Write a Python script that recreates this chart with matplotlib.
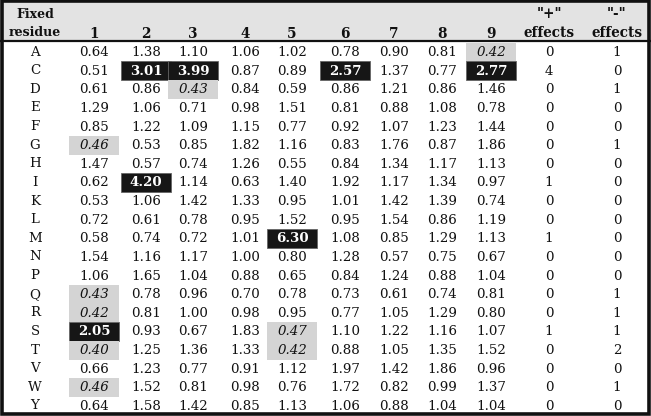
import matplotlib
matplotlib.use("Agg")
import matplotlib.pyplot as plt
from matplotlib.patches import Rectangle

residues = ["A", "C", "D", "E", "F", "G", "H", "I", "K", "L", "M", "N", "P", "Q", "R", "S", "T", "V", "W", "Y"]
positions = ["1", "2", "3", "4", "5", "6", "7", "8", "9"]
values = [
    [0.64, 1.38, 1.10, 1.06, 1.02, 0.78, 0.90, 0.81, 0.42],
    [0.51, 3.01, 3.99, 0.87, 0.89, 2.57, 1.37, 0.77, 2.77],
    [0.61, 0.86, 0.43, 0.84, 0.59, 0.86, 1.21, 0.86, 1.46],
    [1.29, 1.06, 0.71, 0.98, 1.51, 0.81, 0.88, 1.08, 0.78],
    [0.85, 1.22, 1.09, 1.15, 0.77, 0.92, 1.07, 1.23, 1.44],
    [0.46, 0.53, 0.85, 1.82, 1.16, 0.83, 1.76, 0.87, 1.86],
    [1.47, 0.57, 0.74, 1.26, 0.55, 0.84, 1.34, 1.17, 1.13],
    [0.62, 4.20, 1.14, 0.63, 1.40, 1.92, 1.17, 1.34, 0.97],
    [0.53, 1.06, 1.42, 1.33, 0.95, 1.01, 1.42, 1.39, 0.74],
    [0.72, 0.61, 0.78, 0.95, 1.52, 0.95, 1.54, 0.86, 1.19],
    [0.58, 0.74, 0.72, 1.01, 6.30, 1.08, 0.85, 1.29, 1.13],
    [1.54, 1.16, 1.17, 1.00, 0.80, 1.28, 0.57, 0.75, 0.67],
    [1.06, 1.65, 1.04, 0.88, 0.65, 0.84, 1.24, 0.88, 1.04],
    [0.43, 0.78, 0.96, 0.70, 0.78, 0.73, 0.61, 0.74, 0.81],
    [0.42, 0.81, 1.00, 0.98, 0.95, 0.77, 1.05, 1.29, 0.80],
    [2.05, 0.93, 0.67, 1.83, 0.47, 1.10, 1.22, 1.16, 1.07],
    [0.40, 1.25, 1.36, 1.33, 0.42, 0.88, 1.05, 1.35, 1.52],
    [0.66, 1.23, 0.77, 0.91, 1.12, 1.97, 1.42, 1.86, 0.96],
    [0.46, 1.52, 0.81, 0.98, 0.76, 1.72, 0.82, 0.99, 1.37],
    [0.64, 1.58, 1.42, 0.85, 1.13, 1.06, 0.88, 1.04, 1.04],
]
plus_effects = [0, 4, 0, 0, 0, 0, 0, 1, 0, 0, 1, 0, 0, 0, 0, 1, 0, 0, 0, 0]
minus_effects = [1, 0, 1, 0, 0, 1, 0, 0, 0, 0, 0, 0, 0, 1, 1, 1, 2, 0, 1, 0]

HIGH = 2.0
LOW = 0.5

W, H = 651, 416
fig = plt.figure(figsize=(W / 100, H / 100), dpi=100)
ax = fig.add_axes([0, 0, 1, 1])
ax.set_xlim(0, W)
ax.set_ylim(H, 0)
ax.axis("off")

FONT = "DejaVu Serif"
FS = 9.6

res_x = 33
col_x = [94, 146, 193, 245, 292, 345, 394, 442, 491]
plus_x = 549
minus_x = 617
row_y0 = 52
row_dy = 18.63
cell_w = 50
cell_h = 19

# header background
ax.add_patch(Rectangle((0, 0), W, 41, facecolor="#e3e3e3", edgecolor="none", zorder=0))
ax.plot([0, W], [41, 41], color="#111111", lw=1.6, zorder=3)

hdr = dict(fontfamily=FONT, fontsize=FS + 0.2, fontweight="bold", ha="center", va="center", color="#111111")
hdr_res = dict(hdr, fontsize=9.0)
ax.text(res_x + 2, 14, "Fixed", **hdr_res)
ax.text(res_x + 2, 33, "residue", **hdr_res)
for x, p in zip(col_x, positions):
    ax.text(x, 34, p, **hdr)
ax.text(plus_x, 14, '"+"', **hdr)
ax.text(plus_x, 33, "effects", **hdr)
ax.text(minus_x, 14, '"-"', **hdr)
ax.text(minus_x, 33, "effects", **hdr)

for i, r in enumerate(residues):
    y = row_y0 + i * row_dy
    ax.text(res_x + 2, y, r, fontfamily=FONT, fontsize=FS, ha="center", va="center", color="#111111")
    for j, v in enumerate(values[i]):
        x = col_x[j]
        s = f"{v:.2f}"
        if v >= HIGH:
            ax.add_patch(Rectangle((x - cell_w / 2, y - cell_h / 2), cell_w, cell_h,
                                   facecolor="#161616", edgecolor="#666666", lw=0.6, zorder=1))
            ax.text(x, y + 0.5, s, fontfamily=FONT, fontsize=FS, fontweight="bold",
                    ha="center", va="center", color="white", zorder=2)
        elif v < LOW:
            ax.add_patch(Rectangle((x - cell_w / 2, y - cell_h / 2), cell_w, cell_h,
                                   facecolor="#d4d4d4", edgecolor="none", zorder=1))
            ax.text(x, y + 0.5, s, fontfamily=FONT, fontsize=FS, fontstyle="italic",
                    ha="center", va="center", color="#111111", zorder=2)
        else:
            ax.text(x, y + 0.5, s, fontfamily=FONT, fontsize=FS,
                    ha="center", va="center", color="#111111", zorder=2)
    ax.text(plus_x, y + 0.5, str(plus_effects[i]), fontfamily=FONT, fontsize=FS,
            ha="center", va="center", color="#111111")
    ax.text(minus_x, y + 0.5, str(minus_effects[i]), fontfamily=FONT, fontsize=FS,
            ha="center", va="center", color="#111111")

# outer border
ax.add_patch(Rectangle((1.5, 1), W - 3.5, H - 3, facecolor="none", edgecolor="#111111", lw=2.6, zorder=5))

fig.savefig("out.png", dpi=100)
